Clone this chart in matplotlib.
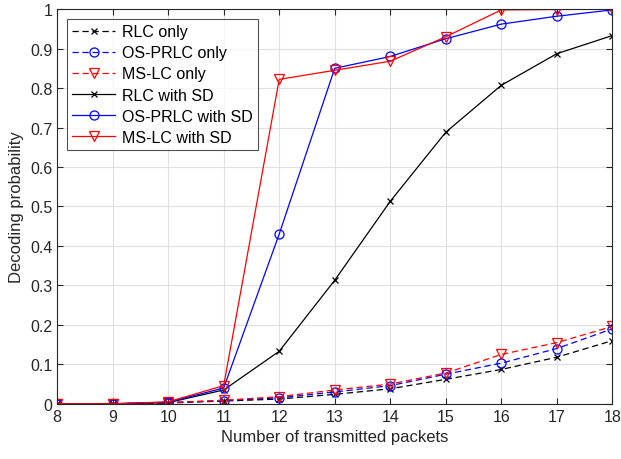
import numpy as np
import matplotlib.pyplot as plt

plt.rcParams['font.family'] = ['Liberation Sans', 'DejaVu Sans']

packets = [8, 9, 10, 11, 12, 13, 14, 15, 16, 17, 18]

rlc_only = [0.0, 0.0, 0.002, 0.007, 0.012, 0.024, 0.038, 0.062, 0.087, 0.118, 0.160]
osprlc_only = [0.0, 0.0, 0.003, 0.008, 0.015, 0.030, 0.046, 0.075, 0.103, 0.140, 0.190]
mslc_only = [0.0, 0.0, 0.003, 0.009, 0.018, 0.035, 0.050, 0.078, 0.125, 0.155, 0.196]
rlc_sd = [0.0, 0.0, 0.003, 0.035, 0.133, 0.313, 0.513, 0.688, 0.807, 0.887, 0.933]
osprlc_sd = [0.0, 0.0, 0.004, 0.040, 0.430, 0.850, 0.880, 0.925, 0.962, 0.982, 0.998]
mslc_sd = [0.0, 0.0, 0.005, 0.046, 0.822, 0.845, 0.868, 0.930, 0.998, 0.999, 1.000]

fig = plt.figure(figsize=(6.21, 4.6), dpi=100)
ax = fig.add_axes([0.092, 0.12, 0.894, 0.858])

dash = (5, 3)
ax.plot(packets, rlc_only, 'k--x', lw=0.9, ms=5, mew=0.9, dashes=dash, label='RLC only')
ax.plot(packets, osprlc_only, '--o', color='blue', lw=0.9, ms=6.5, mew=0.9, mfc='none', dashes=dash, label='OS-PRLC only')
ax.plot(packets, mslc_only, '--v', color='red', lw=0.9, ms=7.5, mew=0.9, mfc='none', dashes=dash, label='MS-LC only')
ax.plot(packets, rlc_sd, 'k-x', lw=0.9, ms=5, mew=0.9, label='RLC with SD')
ax.plot(packets, osprlc_sd, '-o', color='blue', lw=0.9, ms=6.5, mew=0.9, mfc='none', label='OS-PRLC with SD')
ax.plot(packets, mslc_sd, '-v', color='red', lw=0.9, ms=7.5, mew=0.9, mfc='none', label='MS-LC with SD')

ax.set_xlim(8, 18)
ax.set_ylim(0, 1)
ax.set_xticks(range(8, 19))
ax.set_yticks(np.arange(0, 1.01, 0.1))
ax.set_yticklabels(['0', '0.1', '0.2', '0.3', '0.4', '0.5', '0.6', '0.7', '0.8', '0.9', '1'])
ax.grid(True, color='#e0e0e0', lw=0.8)
ax.set_axisbelow(True)
ax.tick_params(direction='in', top=True, right=True, labelsize=11.5, colors='#262626', length=4)
for s in ax.spines.values():
    s.set_color('#262626')
    s.set_linewidth(0.8)

ax.set_xlabel('Number of transmitted packets', fontsize=12, color='#262626')
ax.set_ylabel('Decoding probability', fontsize=12, color='#262626')

leg = ax.legend(loc='upper left', fontsize=11.5, frameon=True, fancybox=False,
                edgecolor='#262626', handlelength=2.7, borderaxespad=0.6,
                labelspacing=0.38, borderpad=0.35, handletextpad=0.4)
leg.get_frame().set_linewidth(0.8)

fig.savefig('out.png')
